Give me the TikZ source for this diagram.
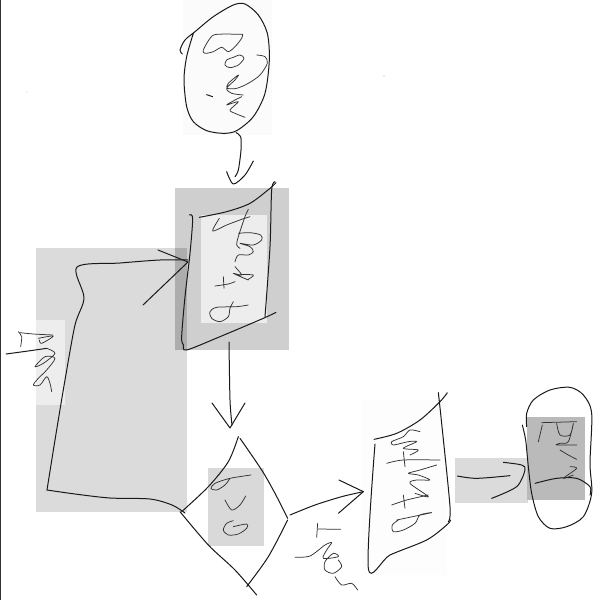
\documentclass[tikz,border=0pt]{standalone}
\newcommand{\skc}[1]{\draw[skline] plot[smooth,tension=.5] coordinates {#1};}
\newcommand{\skt}[1]{\draw[skthin] plot[smooth,tension=.5] coordinates {#1};}
\tikzset{
 skline/.style={line width=1pt,line cap=round,line join=round,color=black!90},
 skthin/.style={line width=.75pt,line cap=round,line join=round,color=black!80},
 z/.style 2 args={shift={(#1,#2)},x=.33333pt,y=-.33333pt}
}
\begin{document}
\begin{tikzpicture}[x=1pt,y=-1pt]
\useasboundingbox (0,0) rectangle (600,600);
\fill[white] (0,0) rectangle (600,600);
% faint panels
\fill[black!1.5] (183,0) rectangle (272,135);
\fill[black!.8] (362,400) rectangle (447,575);
% grey regions
\fill[black!14] (36,248) rectangle (187,512);
\fill[black!7] (36,320) rectangle (65,405);
\fill[black!19] (175,188) rectangle (289,350);
\fill[black!32] (175,248) rectangle (187,350);
\fill[black!7] (201,215) rectangle (267,323);
\fill[black!15] (208,468) rectangle (264,546);
\fill[black!14] (455,458) rectangle (528,503);
\fill[black!27] (527,417) rectangle (585,500);
\draw[black!80,line width=1pt] (0,0) -- (0,600);
% oval 1
\begin{scope}[z={170}{0}]
\skc{(70,100)(50,170)(42,240)(50,320)(70,365)(110,392)(160,400)(200,392)(250,350)(285,280)(298,180)(292,100)(265,45)(225,12)(190,15)(130,50)(75,95)(45,120)(30,150)(37,162)}
\skt{(218,103)(140,103)(120,115)(100,150)(105,160)(130,155)(155,142)(175,155)(195,140)(215,115)(218,103)}
\skt{(190,172)(170,180)(165,195)(180,203)(205,195)(222,175)(210,165)(190,172)}
\skt{(260,165)(285,170)(292,190)(270,225)(235,250)(200,265)(172,265)(175,250)(205,225)(195,240)(170,265)(185,280)(220,285)}
\skc{(110,284)(128,290)}
\skt{(215,290)(195,300)(170,315)(205,305)(180,330)(195,340)(225,352)}
\skc{(198,398)(212,410)(213,450)(205,510)(195,530)}
\skc{(170,515)(190,552)(225,525)(250,483)}
\end{scope}
% box 1
\begin{scope}[z={170}{180}]
\skc{(58,105)(68,115)(60,220)(45,350)(35,470)(40,495)(50,510)(150,470)(280,415)(318,397)}
\skc{(315,5)(305,30)(300,200)(285,410)}
\skc{(88,112)(170,95)(240,70)(300,25)(318,8)}
\skt{(148,115)(128,153)(170,135)(215,118)(240,110)}
\skt{(235,88)(225,110)(205,170)(200,195)(210,205)}
\skt{(205,160)(240,158)(272,165)(275,180)(250,195)(210,190)(240,200)(250,215)(235,225)(205,225)(195,245)}
\skt{(195,260)(215,285)(190,280)(235,300)(205,285)(250,285)(235,298)}
\skt{(135,318)(175,312)(195,305)}
\skt{(160,290)(162,325)}
\skt{(235,375)(200,380)(140,382)(120,395)(125,415)(150,425)(175,410)(180,385)(190,365)}
\end{scope}
% feedback loop
\skc{(47,490)(55,440)(65,380)(75,325)(84,298)(77,267)(120,263)(160,260)(188,260)}
\skc{(47,490)(75,494)(110,498)(150,499)(172,505)(185,513)}
\draw[skline] (158,250) -- (188,262) -- (143,305);
% arrow to diamond
\skc{(229,342)(230,400)(232,425)}
\draw[skline] (212,403) -- (230,428) -- (245,403);
% left label
\begin{scope}[z={0}{320}]
\skt{(55,35)(65,50)(62,80)}
\skt{(60,38)(100,42)(158,45)}
\skt{(115,55)(160,48)(125,70)(118,60)}
\skc{(18,102)(70,95)(140,85)}
\skt{(140,85)(165,100)(130,130)(105,140)(135,110)(165,115)(140,150)(115,175)(100,195)(120,195)(140,170)(150,190)(155,215)}
\end{scope}
% diamond
\begin{scope}[z={175}{430}]
\skc{(190,20)(160,95)(100,170)(20,245)}
\skc{(15,245)(100,345)(180,420)(245,495)}
\skc{(195,25)(260,120)(300,190)(338,265)}
\skc{(338,270)(280,380)(215,470)}
\skt{(228,135)(165,145)(120,160)(108,175)(125,180)(150,165)(165,145)}
\skt{(150,210)(170,240)(195,225)(212,198)}
\skt{(175,290)(215,282)(215,295)(190,312)(160,315)(145,300)(155,280)(175,272)}
\skc{(345,255)(420,225)(500,200)(565,185)}
\draw[skline] (492,150) -- (565,185) -- (490,250);
\skt{(428,280)(425,322)}
\skt{(430,297)(497,298)}
\skt{(360,382)(405,378)(450,345)(470,338)(455,360)(445,385)(490,380)(475,370)(450,395)(450,420)(475,430)(500,410)(490,390)}
\skt{(480,440)(500,465)(530,460)(548,480)}
\end{scope}
% document and end oval
\begin{scope}[z={360}{380}]
\skc{(45,192)(25,565)(90,525)(200,480)(260,435)(272,420)}
\skc{(235,38)(245,130)(270,380)(265,425)}
\skc{(42,178)(110,160)(180,120)(240,65)(262,38)}
\skt{(180,155)(150,150)(130,170)(95,185)(100,195)(145,185)(170,185)(130,205)(175,210)(150,225)}
\skt{(80,250)(130,240)(240,240)}
\skt{(130,215)(135,260)}
\skt{(230,255)(180,270)(145,280)(175,285)(210,300)(170,300)(150,310)(205,350)(165,340)}
\skt{(95,375)(140,360)(205,345)}
\skt{(130,345)(135,385)}
\skt{(110,420)(215,398)(180,405)(165,430)(130,450)(100,455)(97,435)(115,420)}
\skc{(292,288)(350,295)(450,287)}
\skc{(430,247)(485,255)(495,270)(470,320)(395,355)}
\skc{(500,140)(500,100)(520,60)(570,30)(630,22)(670,45)(695,100)(690,250)(695,340)(670,410)(620,440)(570,445)(535,410)(515,340)(505,260)(497,180)(487,135)}
\skc{(525,310)(590,295)(650,295)(690,320)(690,345)}
\skt{(545,128)(650,125)}
\skt{(547,135)(535,185)}
\skt{(590,130)(600,165)(630,165)(640,130)(625,185)(600,190)(590,195)(650,195)}
\skt{(600,210)(625,225)(650,238)}
\skt{(630,260)(650,265)(610,295)(640,285)}
\end{scope}
% specks
\fill[black!35] (384,76) circle (.6);
\fill[black!20] (27,92) circle (.6);
\end{tikzpicture}
\end{document}
